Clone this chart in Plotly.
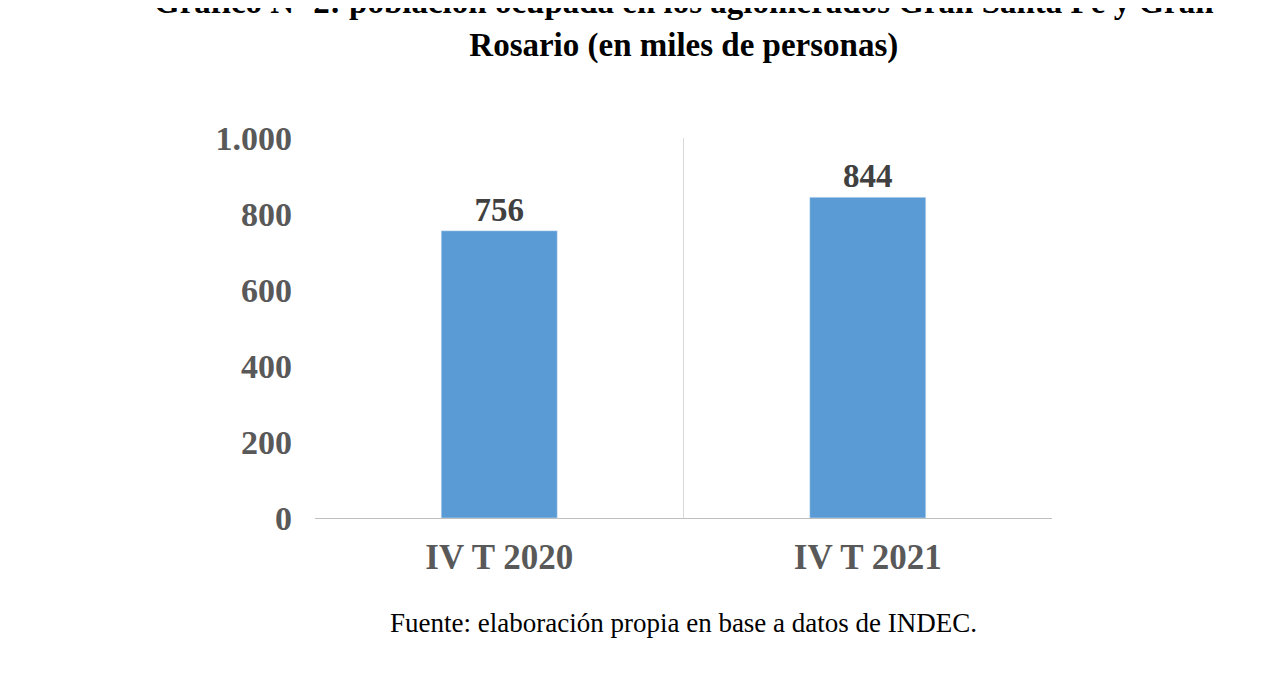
import plotly.graph_objects as go

periodos = ["IV T 2020", "IV T 2021"]
ocupados = [756, 844]

fig = go.Figure(go.Bar(
    x=periodos, y=ocupados, width=0.315,
    marker=dict(color="#5B9BD5"),
    text=ocupados, textposition="outside",
    textfont=dict(family="Liberation Serif", size=33, color="#404040", weight="bold"),
    cliponaxis=False,
))

# page has an 8px body margin, so the figure is a bit smaller than the window
fig.update_layout(
    width=1264, height=660,
    paper_bgcolor="white", plot_bgcolor="white",
    margin=dict(l=307, r=220, t=130, b=150),
    separators=",.",
    showlegend=False,
    xaxis=dict(
        tickson="boundaries", showgrid=True, gridcolor="#D9D9D9",
        showline=True, linecolor="#BFBFBF", ticks="",
        tickfont=dict(family="Liberation Serif", size=35, color="#595959", weight="bold"),
        ticklabelstandoff=8,
    ),
    yaxis=dict(
        range=[0, 1000], tickvals=[0, 200, 400, 600, 800, 1000],
        tickformat=",d", showgrid=False, zeroline=False,
        tickfont=dict(family="Liberation Serif", size=34, color="#595959", weight="bold"),
        ticklabelstandoff=22,
    ),
    annotations=[
        dict(
            text="<b>Gráfico Nº 2: población ocupada en los aglomerados Gran Santa Fe y Gran<br>Rosario (en miles de personas)</b>",
            xref="paper", yref="paper", x=0.5, y=1.3, showarrow=False,
            xanchor="center", yanchor="middle", align="center",
            font=dict(family="Liberation Serif", size=33, color="black"),
        ),
        dict(
            text="Fuente: elaboración propia en base a datos de INDEC.",
            xref="paper", yref="paper", x=0.5, y=-0.275, showarrow=False,
            xanchor="center", yanchor="middle",
            font=dict(family="Liberation Serif", size=27, color="black"),
        ),
    ],
)

fig.write_html("out.html")
